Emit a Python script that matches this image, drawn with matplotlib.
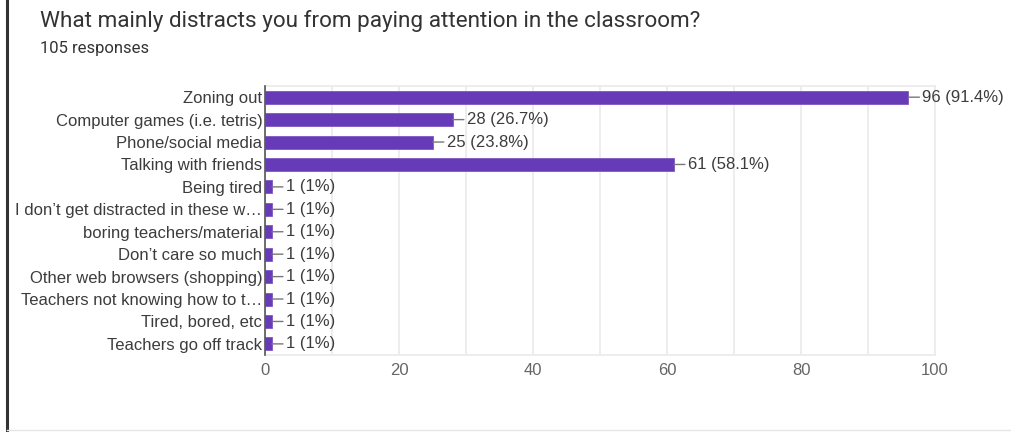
import matplotlib

matplotlib.use("Agg")
import matplotlib.pyplot as plt
from matplotlib.lines import Line2D

# Survey answers, top to bottom
answers = [
    "Zoning out",
    "Computer games (i.e. tetris)",
    "Phone/social media",
    "Talking with friends",
    "Being tired",
    "I don\u2019t get distracted in these w\u2026",
    "boring teachers/material",
    "Don\u2019t care so much",
    "Other web browsers (shopping)",
    "Teachers not knowing how to t\u2026",
    "Tired, bored, etc",
    "Teachers go off track",
]
counts = [96, 28, 25, 61, 1, 1, 1, 1, 1, 1, 1, 1]
percents = ["91.4%", "26.7%", "23.8%", "58.1%", "1%", "1%", "1%", "1%", "1%", "1%", "1%", "1%"]
x_ticks = [0, 20, 40, 60, 80, 100]
total = 105

BAR = "#673ab7"
TEXT = "#3c3c3c"
GRID = "#ececec"

plt.rcParams["font.family"] = ["Liberation Sans", "DejaVu Sans"]

fig = plt.figure(figsize=(10.12, 4.32), dpi=100)
ax = fig.add_axes([0.262, 0.178, 0.662, 0.623])

ypos = list(range(len(answers)))
ax.barh(ypos, counts, height=0.58, color=BAR, edgecolor="#7e57c2", linewidth=0.6, zorder=3)

for y, c, p in zip(ypos, counts, percents):
    ax.annotate(
        f"{c} ({p})",
        xy=(c, y),
        xytext=(10, 0),
        textcoords="offset points",
        ha="left",
        va="center",
        fontsize=12,
        color=TEXT,
        arrowprops=dict(arrowstyle="-", color="#777777", lw=1, shrinkA=0, shrinkB=0),
        annotation_clip=False,
    )

ax.set_xlim(0, 100)
ax.set_ylim(len(answers) - 0.5, -0.5)
ax.set_yticks(ypos)
ax.set_yticklabels(answers, fontsize=12, color=TEXT)
ax.set_xticks(x_ticks)
ax.set_xticklabels([str(t) for t in x_ticks], fontsize=12, color="#666666")
ax.set_xticks(range(10, 100, 20), minor=True)
ax.tick_params(axis="both", which="both", length=0)
ax.tick_params(axis="y", pad=2)
ax.tick_params(axis="x", pad=6)
ax.grid(axis="x", which="both", color=GRID, linewidth=1.3, zorder=0)

for side in ["top", "right", "bottom"]:
    ax.spines[side].set_color(GRID)
    ax.spines[side].set_linewidth(1.3)
ax.spines["left"].set_color("#555555")
ax.spines["left"].set_linewidth(1.2)
ax.spines["left"].set_zorder(4)

fig.text(0.040, 0.952, "What mainly distracts you from paying attention in the classroom?",
         fontsize=16.2, color="#333333", family=["Roboto", "DejaVu Sans"], va="center")
fig.text(0.040, 0.888, f"{total} responses", fontsize=12, color="#333333",
         family=["Roboto", "DejaVu Sans"], va="center")

# card edges
fig.add_artist(Line2D([0.0065, 0.0065], [0, 1], transform=fig.transFigure, color="#333333", lw=2.2))
fig.add_artist(Line2D([0.0065, 1], [0.004, 0.004], transform=fig.transFigure, color="#e6e6e6", lw=1))

fig.savefig("out.png", dpi=100, facecolor="white")
